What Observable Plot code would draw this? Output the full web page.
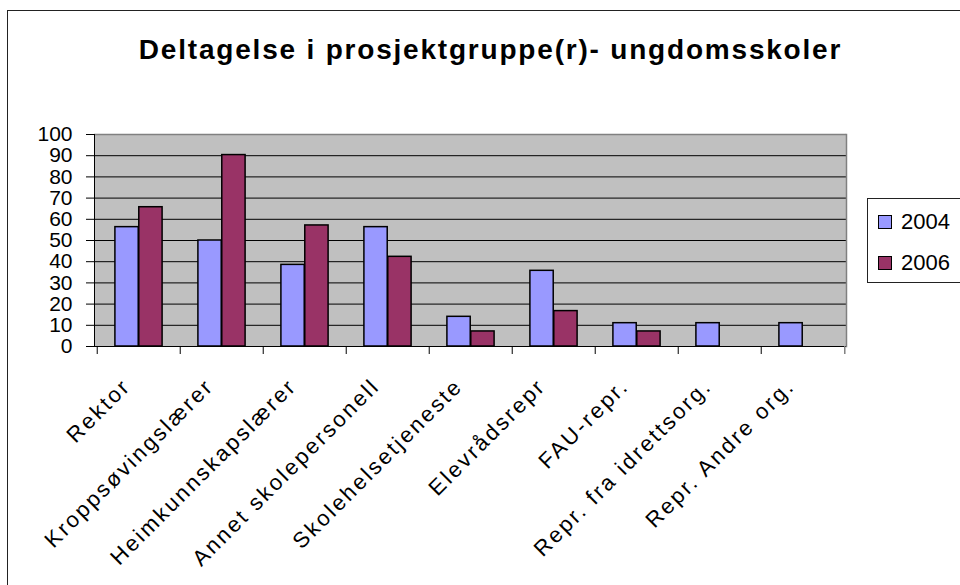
<!DOCTYPE html>
<html>
<head>
<meta charset="utf-8">
<script src="https://cdn.jsdelivr.net/npm/d3@7"></script>
<script src="https://cdn.jsdelivr.net/npm/@observablehq/plot@0.6"></script>
<style>
  html, body { margin: 0; padding: 0; background: #fff; }
  body { width: 960px; height: 585px; position: relative; overflow: hidden; font-family: Arial, "Liberation Sans", sans-serif; }
  #border { position: absolute; left: 7px; top: 10px; width: 1000px; height: 1000px; border-left: 1.5px solid #222; border-top: 1.5px solid #222; }
  #title { position: absolute; left: 0; width: 981px; top: 34px; text-align: center; font-weight: bold; font-size: 28px; letter-spacing: 1.8px; color: #000; }
  #chart { position: absolute; left: 0; top: 0; }
  #legend { position: absolute; left: 867px; top: 198px; width: 200px; height: 83px; border: 1px solid #222; background: #fff; }
  .item { position: absolute; left: 10px; font-size: 22px; line-height: 22px; display: flex; align-items: center; }
  .sw { width: 12px; height: 12px; border: 1px solid #000; margin-right: 9px; }
  #chart g[aria-label="x-axis tick label"] text { letter-spacing: 2.5px; }
</style>
</head>
<body>
<div id="border"></div>
<div id="title">Deltagelse i prosjektgruppe(r)- ungdomsskoler</div>
<div id="chart"></div>
<div id="legend"></div>
<script>
const categories = ["Rektor", "Kroppsøvingslærer", "Heimkunnskapslærer", "Annet skolepersonell", "Skolehelsetjeneste", "Elevrådsrepr", "FAU-repr.", "Repr. fra idrettsorg.", "Repr. Andre org."];
const series = ["2004", "2006"];
const values2004 = [56.3, 50, 38.5, 56.3, 14, 35.7, 11, 11, 11];
const values2006 = [65.7, 90.3, 57.1, 42.3, 7.1, 16.7, 7.1, null, null];
const yTicks = [0, 10, 20, 30, 40, 50, 60, 70, 80, 90, 100];
const colors = ["#9999FF", "#993366"];

const data2004 = categories.map((c, i) => ({category: c, series: "2004", value: values2004[i]})).filter(d => d.value != null);
const data2006 = categories.map((c, i) => ({category: c, series: "2006", value: values2006[i]})).filter(d => d.value != null);

const W = 960, H = 585;
const mL = 94, mR = 114, mT = 134, mB = 239;
const band = (W - mL - mR) / categories.length;
const bw = band / 3.5;

const plot = Plot.plot({
  width: W,
  height: H,
  marginLeft: mL,
  marginRight: mR,
  marginTop: mT,
  marginBottom: mB,
  style: {fontFamily: "Arial, 'Liberation Sans', sans-serif", fontSize: "21px", color: "#000", background: "transparent", overflow: "visible"},
  x: {type: "band", domain: categories, padding: 0, label: null},
  y: {domain: [0, 100], label: null},
  color: {domain: series, range: colors},
  marks: [
    Plot.frame({fill: "#C0C0C0", stroke: null}),
    Plot.gridY(yTicks.filter(t => t > 0 && t < 100), {stroke: "#000", strokeOpacity: 1, strokeWidth: 1}),
    Plot.ruleY([100], {stroke: "#808080", strokeWidth: 1.5}),
    Plot.barY(data2004, {x: "category", y: "value", fill: "series", stroke: "#000", strokeWidth: 1.5, insetLeft: 0.75 * bw, insetRight: 1.75 * bw}),
    Plot.barY(data2006, {x: "category", y: "value", fill: "series", stroke: "#000", strokeWidth: 1.5, insetLeft: 1.75 * bw, insetRight: 0.75 * bw}),
    Plot.frame({anchor: "right", stroke: "#808080", strokeWidth: 1.5}),
    Plot.ruleY([0], {stroke: "#000", strokeWidth: 1}),
    Plot.frame({anchor: "left", stroke: "#000", strokeWidth: 1}),
    Plot.ruleX(categories, {x: d => d, y: 0, insetBottom: -8, dx: -band / 2, stroke: "#000", strokeWidth: 1}),
    Plot.ruleX([categories[categories.length - 1]], {x: d => d, y: 0, insetBottom: -8, dx: band / 2, stroke: "#808080", strokeWidth: 1.5}),
    Plot.axisY({ticks: yTicks, tickSize: 8, tickPadding: 14, stroke: "#000", strokeOpacity: 1, fontSize: 21}),
    Plot.axisX({tickSize: 0, tickRotate: -45, tickPadding: 36, dx: -12, fontSize: 22})
  ]
});
document.getElementById("chart").appendChild(plot);

const legend = document.getElementById("legend");
series.forEach((s, i) => {
  const item = document.createElement("div");
  item.className = "item";
  item.style.top = (12 + i * 41) + "px";
  const sw = document.createElement("div");
  sw.className = "sw";
  sw.style.background = colors[i];
  item.appendChild(sw);
  item.appendChild(document.createTextNode(s));
  legend.appendChild(item);
});
</script>
</body>
</html>
